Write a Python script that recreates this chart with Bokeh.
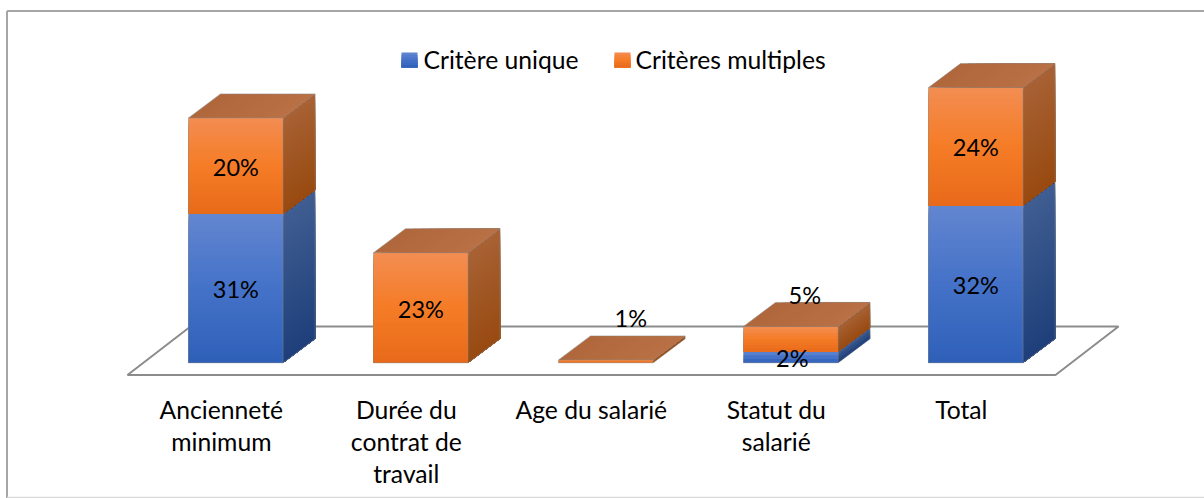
from bokeh.plotting import figure
from bokeh.models import Range1d
from bokeh.core.properties import value
from bokeh.embed import file_html
from bokeh.resources import INLINE

# ---- data ----
categories = [["Ancienneté", "minimum"], ["Durée du", "contrat de", "travail"],
              ["Age du salarié"], ["Statut du", "salarié"], ["Total"]]
unique = [30.7, 0.0, 0.0, 2.3, 32.45]
multiple = [19.8, 22.7, 0.6, 5.2, 24.3]
series_names = ["Critère unique", "Critères multiples"]

# ---- layout constants (image pixels) ----
W, H = 1204, 498
BASE_Y = 362.3
PX_PER_PCT = 4.85
SPACING = 185.0
FIRST_CX = 235.3
BAR_W = 94.6
DX, DY = 32.0, 24.0
FONT = value("Lato")
FS = "24.7px"
FS_DATA = "23.5px"


def xd(px):
    return (px - FIRST_CX) / SPACING


def yd(py):
    return (BASE_Y - py) / PX_PER_PCT


p = figure(width=W, height=H, output_backend="svg", toolbar_location=None,
           x_range=Range1d(xd(0), xd(W)), y_range=Range1d(yd(H), yd(0)),
           min_border=0, outline_line_color=None, margin=(0, 0, 0, 0))
p.axis.visible = False
p.grid.visible = False
p.background_fill_color = "white"
p.border_fill_color = "white"

ddx, ddy = DX / SPACING, DY / PX_PER_PCT
half = BAR_W / 2 / SPACING

# chart frame
p.line([xd(6.5), xd(6.5)], [yd(H), yd(10.5)], line_color="#a6a6a6", line_width=2)
p.line([xd(6.5), xd(W)], [yd(10.5), yd(10.5)], line_color="#a6a6a6", line_width=2)
p.line([xd(6.5), xd(W)], [yd(497), yd(497)], line_color="#d9d9d9", line_width=1.5)

# floor
p.patch([xd(127), xd(1055), xd(1118), xd(190)],
        [yd(374.5), yd(374.5), yd(326), yd(326)],
        fill_color="white", line_color="#8c8c8c", line_width=2)


def mix(c1, c2, t):
    return "#%02x%02x%02x" % tuple(round(a + (b - a) * t) for a, b in zip(c1, c2))


def ramp(stops, t):
    for (p0, c0), (p1, c1) in zip(stops, stops[1:]):
        if t <= p1:
            return mix(c0, c1, (t - p0) / (p1 - p0))
    return mix(stops[-1][1], stops[-1][1], 0)


FRONT = {
    "b": [(0, (0x63, 0x86, 0xd0)), (0.5, (0x44, 0x72, 0xc8)), (1, (0x2f, 0x60, 0xb8))],
    "o": [(0, (0xf3, 0x8d, 0x52)), (0.5, (0xf5, 0x7c, 0x26)), (1, (0xe8, 0x6a, 0x1a))],
}
SIDE = {
    "b": [(0, (0x40, 0x5e, 0x92)), (1, (0x1e, 0x3f, 0x7a))],
    "o": [(0, (0xa8, 0x62, 0x35)), (1, (0x98, 0x4a, 0x10))],
}
TOP_L, TOP_R = (0xb0, 0x67, 0x3c), (0xb9, 0x70, 0x45)
EDGE = "#8a8a8a"


def segment(i, y0, y1, kind):
    """one stacked block of bar i between values y0 and y1, with shaded faces.
    Each band reaches down to the block's foot, so later bands cover it without seams."""
    if y1 <= y0:
        return
    L, R = i - half, i + half
    n = max(2, int((y1 - y0) * PX_PER_PCT / 3))
    for k in range(n):
        a = y1 - (y1 - y0) * k / n
        t = (k + 0.5) / n
        p.quad(left=L, right=R, top=a, bottom=y0, fill_color=ramp(FRONT[kind], t), line_color=None)
        p.patch([R, R + ddx, R + ddx, R], [a, a + ddy, y0 + ddy, y0],
                fill_color=ramp(SIDE[kind], t), line_color=None)


# bars
for i, (u, m) in enumerate(zip(unique, multiple)):
    segment(i, 0, u, "b")
    segment(i, u, u + m, "o")
    tot = u + m
    L, R = i - half, i + half
    # top face, shaded left to right
    n = 12
    for k in range(n):
        f0 = k / n
        c = mix(TOP_L, TOP_R, (k + 0.5) / n)
        p.patch([L + (R - L) * f0, R, R + ddx, L + (R - L) * f0 + ddx],
                [tot, tot, tot + ddy, tot + ddy], fill_color=c, line_color=None)
    # thin outline
    p.multi_line([[L, L, R, R, L], [L, L + ddx, R + ddx, R + ddx, R],
                  [R, R + ddx]],
                 [[0, tot, tot, 0, 0], [tot, tot + ddy, tot + ddy, ddy, 0],
                  [tot, tot + ddy]],
                 line_color=EDGE, line_width=0.8, line_alpha=0.6)

# data labels: centred in their block, with the hand-moved ones of the original
LABEL_SHIFT_U = [(0, 1), (0, 0), (0, 0), (1.5, 1), (0, 1)]
LABEL_SHIFT_M = [(0, 1), (0, 1), (25, -43), (14, -44), (0, 1)]
for i, (u, m) in enumerate(zip(unique, multiple)):
    if u > 0:
        sx, sy = LABEL_SHIFT_U[i]
        p.text([i + sx / SPACING], [u / 2 - sy / PX_PER_PCT], text=[f"{round(u)}%"],
               text_font=FONT, text_font_size=FS_DATA, text_align="center",
               text_baseline="middle", text_color="black")
    sx, sy = LABEL_SHIFT_M[i]
    p.text([i + sx / SPACING], [u + m / 2 - sy / PX_PER_PCT], text=[f"{round(m)}%"],
           text_font=FONT, text_font_size=FS_DATA, text_align="center",
           text_baseline="middle", text_color="black")

# category labels
LABEL_X_SHIFT = -14.5
for i, lines in enumerate(categories):
    for j, line in enumerate(lines):
        p.text([i + LABEL_X_SHIFT / SPACING], [yd(409 + 32 * j)], text=[line],
               text_font=FONT, text_font_size=FS, text_align="center",
               text_baseline="middle", text_color="black")

# legend
LEG = [(401, 417, 423, "b"), (614, 630, 635, "o")]
for (x0, x1, xt, kind), name in zip(LEG, series_names):
    n = 6
    for k in range(n):
        c = ramp(FRONT[kind], (k + 0.5) / n)
        p.quad(left=xd(x0), right=xd(x1), top=yd(52 + 15 * k / n), bottom=yd(67),
               fill_color=c, line_color=None)
    p.text([xd(xt)], [yd(58.5)], text=[name], text_font=FONT, text_font_size=FS,
           text_align="left", text_baseline="middle", text_color="black")

open("out.html", "w").write(file_html(p, INLINE))
